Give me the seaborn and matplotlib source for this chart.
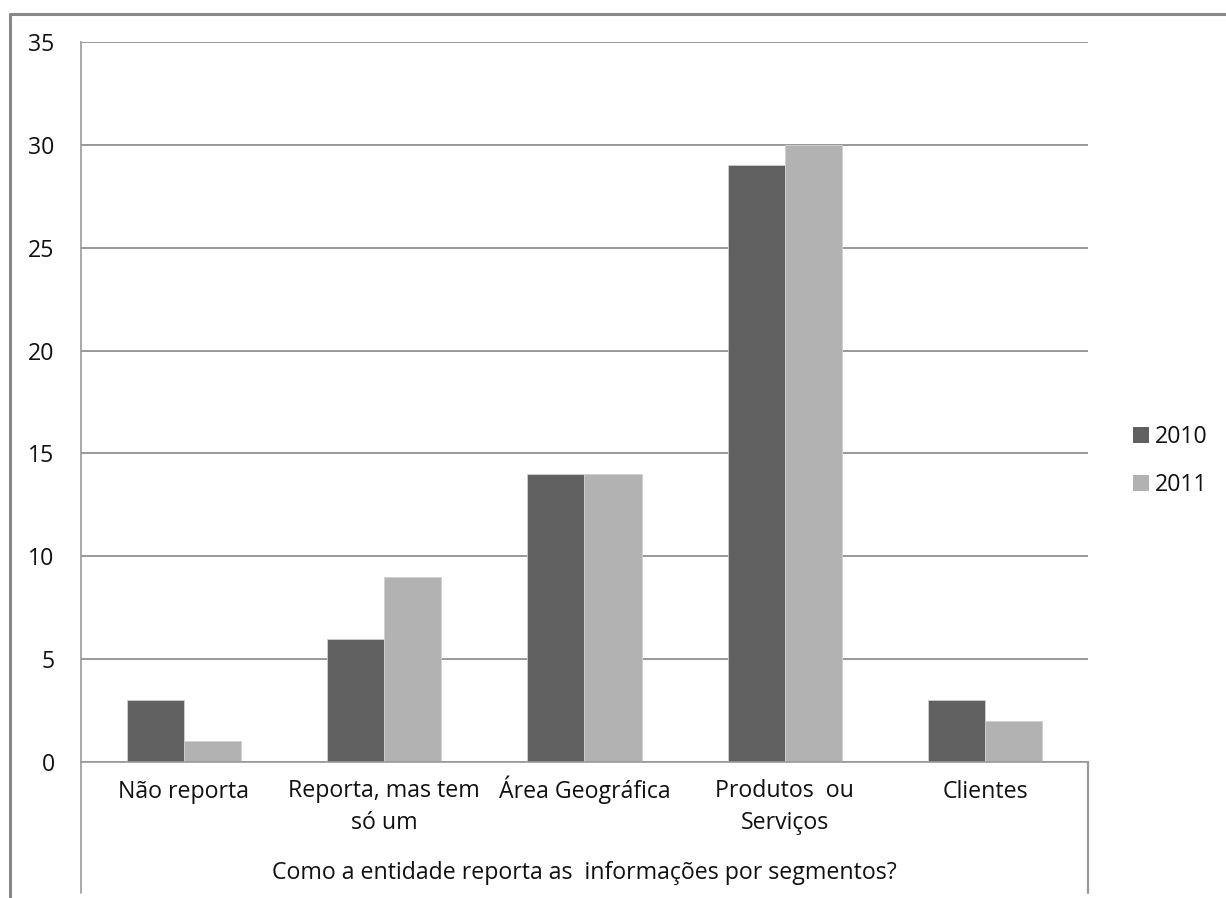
import pandas as pd
import seaborn as sns
import matplotlib.pyplot as plt
import matplotlib.transforms as mtransforms
from matplotlib.lines import Line2D
from matplotlib.patches import Patch

# Data
categories = ["Não reporta", "Reporta, mas tem\nsó um", "Área Geográfica",
              "Produtos  ou\nServiços", "Clientes"]
values_2010 = [3, 6, 14, 29, 3]
values_2011 = [1, 9, 14, 30, 2]
years = ["2010", "2011"]
colors = ["#606060", "#b2b2b2"]
x_title = "Como a entidade reporta as  informações por segmentos?"

df = pd.DataFrame({
    "categoria": categories * 2,
    "valor": values_2010 + values_2011,
    "ano": [years[0]] * len(categories) + [years[1]] * len(categories),
})

sns.set_theme(style="white")
plt.rcParams["font.family"] = ["Open Sans", "DejaVu Sans"]
FS = 16.7
TXT = "#111111"

fig = plt.figure(figsize=(12.26, 8.98), dpi=100)
ax = fig.add_axes([81 / 1226, 1 - 762 / 898, (1088 - 81) / 1226, (762 - 42) / 898])

sns.barplot(data=df, x="categoria", y="valor", hue="ano", palette=colors,
            width=0.571, ax=ax, legend=False, saturation=1,
            edgecolor="#d0d0d0", linewidth=0.6)

ax.set_ylim(0, 35)
ax.set_yticks(range(0, 36, 5))
ax.yaxis.grid(True, color="#888888", linewidth=1.2)
ax.set_axisbelow(True)
ax.tick_params(axis="both", length=0, labelsize=FS, colors=TXT)
ax.tick_params(axis="y", pad=19)

# category labels: first lines share one baseline, like the original
ax.set_xticklabels([])
trans = mtransforms.blended_transform_factory(ax.transData, ax.transAxes)
for i, cat in enumerate(categories):
    n = cat.count("\n")
    y = -(798 + n * 31 - 762) / 720
    ax.text(i, y, cat, transform=trans, ha="center", va="baseline",
            multialignment="center", fontsize=FS, color=TXT, linespacing=1.44)

ax.set_xlabel(x_title, fontsize=FS, color=TXT, va="center")
ax.xaxis.set_label_coords(0.5, -(873 - 762) / 720)
ax.set_ylabel("")
for s in ["top", "right"]:
    ax.spines[s].set_visible(False)
for s in ["left", "bottom"]:
    ax.spines[s].set_color("#999999")
    ax.spines[s].set_linewidth(1.2)

# vertical lines of the category table below the axis
y_low = -(893 - 762) / 720
ax.plot([0, 0], [0, y_low], transform=ax.transAxes, clip_on=False,
        color="#999999", linewidth=1.2)
ax.plot([1, 1], [0, y_low], transform=ax.transAxes, clip_on=False,
        color="#999999", linewidth=1.6)

handles = [Patch(facecolor=c, edgecolor="none") for c in colors]
fig.legend(handles, years, loc="center left", bbox_to_anchor=(1112 / 1226, 1 - 461 / 898),
           frameon=False, fontsize=FS, handlelength=0.7, handleheight=0.7,
           handletextpad=0.25, labelspacing=1.05, labelcolor=TXT)

# outer chart frame (left and top edges)
fig.add_artist(Line2D([10 / 1226, 10 / 1226], [0, 1 - 14 / 898], color="#888888", linewidth=2.2))
fig.add_artist(Line2D([10 / 1226, 1], [1 - 14 / 898, 1 - 14 / 898], color="#888888", linewidth=2.2))

fig.savefig("out.png", dpi=100)
